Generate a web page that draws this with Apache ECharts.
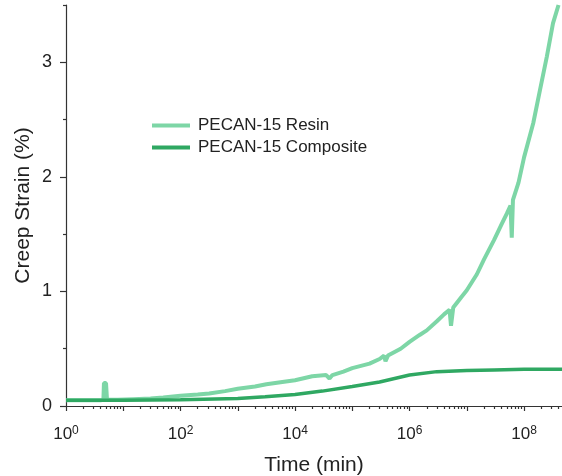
<!DOCTYPE html>
<html>
<head>
<meta charset="utf-8">
<script src="https://cdn.jsdelivr.net/npm/echarts@6/dist/echarts.min.js"></script>
<style>html,body{margin:0;padding:0;background:#fff}#c{width:562px;height:476px}</style>
</head>
<body>
<div id="c"></div>
<script>
// Time (min) and creep strain (%)
var resinTime = [1, 2, 4, 4.5, 4.6, 5.0, 5.2, 8, 15, 30, 50, 100, 200, 316, 600, 1000, 2000, 3162, 6000, 1e4, 2e4, 3.5e4, 4e4, 4.5e4, 7e4, 1e5, 2e5, 3e5, 3.6e5, 3.8e5, 4.2e5, 7e5, 1e6, 1.5e6, 2e6, 3e6, 4e6, 5e6, 5.3e6, 5.8e6, 8e6, 1e7, 1.5e7, 2e7, 3e7, 4e7, 5e7, 5.8e7, 6.1e7, 6.4e7, 8e7, 1e8, 1.45e8, 1.9e8, 2.5e8, 3.2e8, 4e8];
var resinStrain = [0.05, 0.05, 0.05, 0.055, 0.2, 0.2, 0.055, 0.055, 0.06, 0.065, 0.075, 0.09, 0.1, 0.11, 0.13, 0.15, 0.17, 0.19, 0.21, 0.225, 0.26, 0.27, 0.24, 0.27, 0.3, 0.33, 0.37, 0.41, 0.44, 0.39, 0.44, 0.5, 0.56, 0.62, 0.66, 0.74, 0.8, 0.84, 0.7, 0.86, 0.95, 1.01, 1.15, 1.28, 1.45, 1.58, 1.68, 1.75, 1.47, 1.8, 1.95, 2.17, 2.47, 2.76, 3.05, 3.34, 3.5];
var compTime = [1, 10, 100, 1000, 3000, 1e4, 3e4, 1e5, 3e5, 1e6, 3e6, 1e7, 3e7, 1e8, 4.6e8];
var compStrain = [0.05, 0.05, 0.055, 0.065, 0.08, 0.1, 0.13, 0.17, 0.21, 0.27, 0.3, 0.31, 0.315, 0.32, 0.32];
var xMajorTicks = [1, 1e1, 1e2, 1e3, 1e4, 1e5, 1e6, 1e7, 1e8];
var xLabelValues = [1, 1e2, 1e4, 1e6, 1e8];
var yLabelValues = [0, 1, 2, 3];
var yMinorTicks = [0.5, 1.5, 2.5, 3.5];
var seriesNames = ['PECAN-15 Resin', 'PECAN-15 Composite'];

var xMinorTicks = [];
xMajorTicks.forEach(function (d) { for (var k = 2; k <= 9; k++) { if (d * k <= 4.6e8) xMinorTicks.push(d * k); } });

function pairs(t, v) { return t.map(function (x, i) { return [x, v[i]]; }); }

var txt = '#222';
var ff = 'Liberation Sans, Arial';
var axisLineStyle = { color: '#333', width: 1.2 };
var chart = echarts.init(document.getElementById('c'));
chart.setOption({
  animation: false,
  backgroundColor: '#fff',
  grid: { left: 66, right: 0, top: 5, bottom: 70, containLabel: false, outerBoundsMode: 'none' },
  legend: {
    orient: 'vertical', left: 147, top: 112, itemWidth: 38, itemHeight: 4, itemGap: 5,
    icon: 'rect',
    textStyle: { fontFamily: ff, fontSize: 17, color: txt, lineHeight: 17, padding: [0, 0, 0, 3] },
    data: seriesNames
  },
  xAxis: [{
    type: 'log', logBase: 10, min: 1, max: 4.6e8,
    name: 'Time (min)', nameLocation: 'middle', nameGap: 49, nameMoveOverlap: false,
    nameTextStyle: { fontFamily: ff, fontSize: 21, color: txt },
    axisLine: { lineStyle: axisLineStyle },
    axisTick: { customValues: xMajorTicks, length: 5, lineStyle: axisLineStyle },
    splitLine: { show: false },
    axisLabel: {
      customValues: xLabelValues, margin: 19,
      formatter: function (v) { var e = Math.round(Math.log10(v)); return '{b|10}{s|' + e + '}'; },
      rich: {
        b: { fontFamily: ff, fontSize: 17, color: txt },
        s: { fontFamily: ff, fontSize: 12, color: txt, padding: [0, 0, 6, 0] }
      }
    }
  }, {
    type: 'log', logBase: 10, min: 1, max: 4.6e8, position: 'bottom',
    axisLine: { show: false },
    axisTick: { customValues: xMinorTicks, length: 3, lineStyle: axisLineStyle },
    axisLabel: { show: false }, splitLine: { show: false }
  }],
  yAxis: [{
    type: 'value', min: 0, max: 3.5,
    name: 'Creep Strain (%)', nameLocation: 'middle', nameGap: 32, nameMoveOverlap: false,
    nameTextStyle: { fontFamily: ff, fontSize: 21, color: txt },
    axisLine: { show: true, lineStyle: axisLineStyle },
    axisTick: { show: true, customValues: yLabelValues, length: 6, lineStyle: axisLineStyle },
    splitLine: { show: false },
    axisLabel: { customValues: yLabelValues, margin: 14, fontFamily: ff, fontSize: 18, color: txt }
  }, {
    type: 'value', min: 0, max: 3.5, position: 'left',
    axisLine: { show: false },
    axisTick: { show: true, customValues: yMinorTicks, length: 3, lineStyle: axisLineStyle },
    axisLabel: { show: false }, splitLine: { show: false }
  }],
  series: [{
    name: seriesNames[0], type: 'line', showSymbol: false, symbol: 'none',
    color: '#7dd6a6',
    lineStyle: { width: 4, color: '#7dd6a6' },
    data: pairs(resinTime, resinStrain), z: 2
  }, {
    name: seriesNames[1], type: 'line', showSymbol: false, symbol: 'none',
    color: '#2fa862',
    lineStyle: { width: 3.5, color: '#2fa862' },
    data: pairs(compTime, compStrain), z: 3
  }]
});
</script>
</body>
</html>
